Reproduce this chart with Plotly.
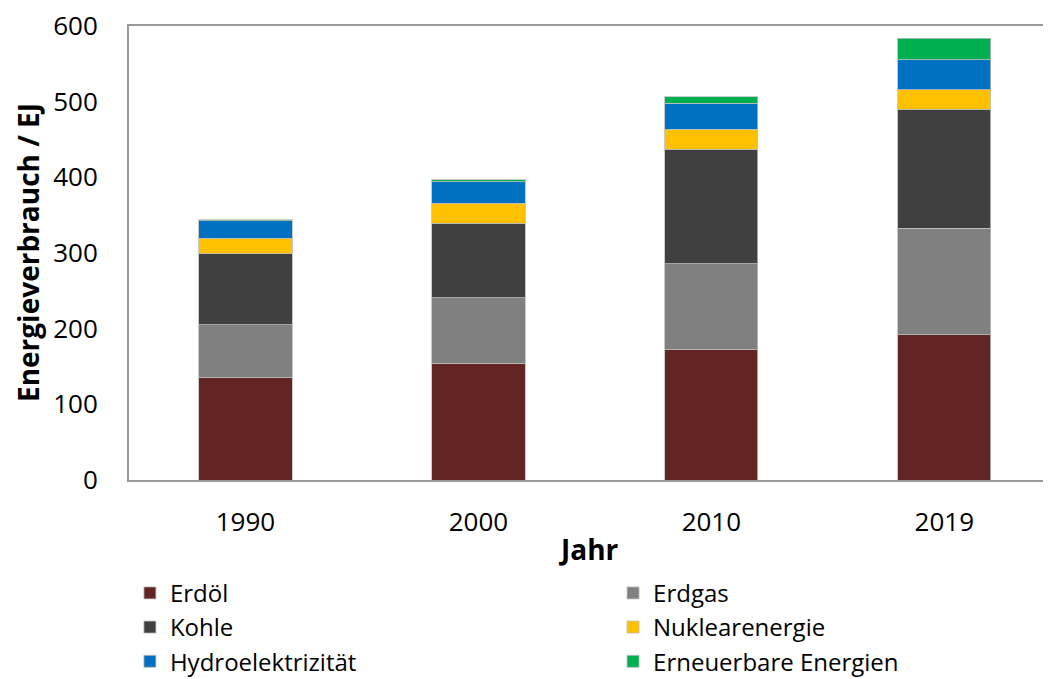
import plotly.graph_objects as go

years = ["1990", "2000", "2010", "2019"]
erdoel = [135, 154, 172, 192]
erdgas = [70, 87, 114, 141]
kohle = [94, 98.5, 151, 157]
nuklear = [20.5, 26.5, 26.5, 25.5]
hydro = [23, 28, 34.5, 40]
erneuerbar = [1.5, 3, 8.5, 28]

series = [
    ("Erdöl", erdoel, "#632523", "legend"),
    ("Erdgas", erdgas, "#808080", "legend2"),
    ("Kohle", kohle, "#404040", "legend"),
    ("Nuklearenergie", nuklear, "#FFC000", "legend2"),
    ("Hydroelektrizität", hydro, "#0070C0", "legend"),
    ("Erneuerbare Energien", erneuerbar, "#00B050", "legend2"),
]

FONT = "Open Sans"
fig = go.Figure()
for name, vals, col, lg in series:
    fig.add_trace(go.Bar(
        x=years, y=vals, name=name, legend=lg,
        marker=dict(color=col, line=dict(color="rgba(190,190,190,0.8)", width=1)),
    ))

# the page adds an 8px body margin, so the figure is sized to fit the window
W, H = 1043, 671
ml, mt, mb = 121, 18, 199
fig.update_layout(
    width=W, height=H,
    barmode="stack", bargap=0.6,
    plot_bgcolor="white", paper_bgcolor="white",
    margin=dict(l=ml, r=0, t=mt, b=mb, pad=0, autoexpand=False),
    font=dict(family=FONT, size=26, color="black"),
    showlegend=True,
    legend=dict(x=0.001, y=-0.200, xanchor="left", yanchor="top",
                font=dict(family=FONT, size=24), bgcolor="rgba(0,0,0,0)",
                traceorder="normal", tracegroupgap=0),
    legend2=dict(x=0.525, y=-0.200, xanchor="left", yanchor="top",
                 font=dict(family=FONT, size=24), bgcolor="rgba(0,0,0,0)",
                 traceorder="normal", tracegroupgap=0),
    xaxis=dict(
        range=[-0.5, 3.458], showline=True, linecolor="#999999", linewidth=2,
        mirror=True, showgrid=False, ticks="", tickfont=dict(size=26),
        ticklabelstandoff=18, automargin=False, ticklabeloverflow="allow",
    ),
    yaxis=dict(
        range=[0, 600], dtick=100, showline=True, linecolor="#999999", linewidth=2,
        mirror=False, showgrid=False, ticks="", tickfont=dict(size=26),
        ticklabelstandoff=24, zeroline=False, automargin=False,
        ticklabeloverflow="allow",
    ),
    annotations=[
        dict(text="<b>Jahr</b>", xref="paper", yref="paper", x=0.498, y=-0.152,
             xanchor="center", yanchor="middle", showarrow=False,
             font=dict(family=FONT, size=28)),
        dict(text="<b>Energieverbrauch / EJ</b>", xref="paper", yref="paper",
             x=-0.1095, y=0.5, xanchor="center", yanchor="middle", textangle=-90,
             showarrow=False, font=dict(family=FONT, size=28)),
    ],
)

fig.write_html("out.html")
